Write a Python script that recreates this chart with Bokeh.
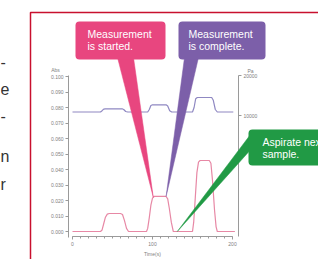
import numpy as np
from bokeh.plotting import figure
from bokeh.models import (Range1d, LinearAxis, FixedTicker, BoxAnnotation,
                          PolyAnnotation, Label, PrintfTickFormatter)
from bokeh.embed import file_html
from bokeh.resources import INLINE

# ---------------- data ----------------
time_s = [0, 35, 37, 39, 41, 43.5, 46, 60, 62.5, 65, 67.5, 70,
          92.5, 94, 96, 98, 100, 102, 117, 119, 121, 123.5, 126,
          150, 151.5, 153.5, 155.5, 157.5, 159.5, 171, 173, 175, 177.5, 179.5, 181, 203]
absorbance = [0, 0, 0.001, 0.005, 0.009, 0.0112, 0.0116, 0.0116, 0.011, 0.007, 0.002, 0,
              0, 0.002, 0.009, 0.017, 0.0215, 0.0226, 0.0226, 0.021, 0.015, 0.006, 0,
              0, 0.006, 0.022, 0.038, 0.0448, 0.0458, 0.0458, 0.044, 0.033, 0.014, 0.003, 0, 0]

press_time = [0, 35, 37, 39, 41, 62, 64, 66.5, 69,
              94, 96, 98, 100, 117, 119, 121.5, 124,
              150, 152, 154, 156, 174, 176, 178.5, 181, 201]
pressure_pa = [10875, 10875, 11200, 11600, 11675, 11675, 11500, 11000, 10875,
               10875, 11500, 12500, 12675, 12675, 12400, 11200, 10875,
               10875, 12000, 14200, 14500, 14500, 13800, 11500, 10875, 10875]

x_tick_major = [0, 100, 200]
x_tick_minor = [0, 10, 20, 30, 40, 50, 60, 70, 80, 90, 100, 110, 120,
                130, 140, 150, 160, 170, 180, 190, 200]
abs_ticks = [0.00, 0.01, 0.02, 0.03, 0.04, 0.05, 0.06, 0.07, 0.08, 0.09, 0.10]
press_ticks = [10000, 20000]

event_times = [101, 117, 131]
callout_text = [["Measurement", "is started."],
                ["Measurement", "is complete."],
                ["Aspirate next", "sample."]]
callout_colors = ["#E8467F", "#7C5FA9", "#219A45"]
side_text = ["-", "e", "-", "n", "r"]

# ---------------- geometry (frame = whole canvas) ----------------
W, H = 318, 259
PPX = 0.8                                   # px per second
PPY = 1550.0                                # px per AU
PPP = 40.0 / 10000                          # px per Pa
# canvas px of reference points: t=0 at x=72, A=0 at y=231, 10000 Pa at y=115
X0 = -72 / PPX
X1 = X0 + W / PPX
Y0 = -(H - 231) / PPY
Y1 = Y0 + H / PPY
P0 = 10000 - (H - 115) / PPP
P1 = P0 + H / PPP


def sx(cx):
    return X0 + cx / PPX


def sy(cy):
    return Y0 + (H - cy) / PPY


def sp(cy):
    return P0 + (H - cy) / PPP


p = figure(width=W, height=H, output_backend="svg", toolbar_location=None,
           x_range=Range1d(X0, X1), y_range=Range1d(Y0, Y1),
           min_border=0)
p.title.visible = False
p.extra_y_ranges = {"press": Range1d(P0, P1)}
p.grid.visible = False
p.outline_line_color = None
p.background_fill_color = "white"
p.border_fill_color = "white"

p.line(press_time, pressure_pa, line_color="#8F88C2", line_width=1.2,
       y_range_name="press")
p.line(time_s, absorbance, line_color="#E788A5", line_width=1.2)

GRAY = "#9a9a9a"
FONT = "Liberation Sans"


def style_axis(ax):
    ax.axis_line_color = GRAY
    ax.axis_line_width = 1
    ax.major_tick_line_color = GRAY
    ax.minor_tick_line_color = GRAY
    ax.major_tick_in = 0
    ax.major_tick_out = 3
    ax.minor_tick_in = 0
    ax.minor_tick_out = 2
    ax.major_label_text_font_size = "5px"
    ax.major_label_text_color = "#808080"
    ax.major_label_text_font = FONT
    ax.major_label_standoff = 2
    ax.axis_label_text_font_size = "5px"
    ax.axis_label_text_color = "#808080"
    ax.axis_label_text_font = FONT
    ax.axis_label_text_font_style = "normal"
    ax.axis_label_standoff = 2


xa = p.xaxis[0]
xa.ticker = FixedTicker(ticks=x_tick_major, minor_ticks=x_tick_minor)
xa.axis_label = "Time(s)"
xa.fixed_location = sy(236)
xa.bounds = (0, 200)
style_axis(xa)

ya = p.yaxis[0]
ya.ticker = FixedTicker(ticks=abs_ticks)
ya.formatter = PrintfTickFormatter(format="%.3f")
ya.fixed_location = sx(68)
ya.bounds = (sy(237), sy(75))
style_axis(ya)
ya.minor_tick_out = 0

ra = LinearAxis(y_range_name="press", ticker=FixedTicker(ticks=press_ticks),
                formatter=PrintfTickFormatter(format="%d"))
ra.fixed_location = sx(238)
ra.bounds = (sp(236), sp(75))
style_axis(ra)
ra.minor_tick_out = 0
p.add_layout(ra, "right")

for txt, cx, cy, al in [("Abs", 55, 69.5, "center"), ("Pa", 247, 70.5, "left")]:
    p.add_layout(Label(x=sx(cx), y=sy(cy), text=txt, text_align=al,
                       text_baseline="middle", text_font_size="5px",
                       text_color="#808080", text_font=FONT))

# ---------------- callouts ----------------
tip_y = [float(np.interp(t, time_s, absorbance)) for t in event_times]

boxes = [(75, 165, 21, 59), (178, 265, 21, 59), (248, 350, 129, 165)]
bases = [[(117, 57), (133, 57)], [(184, 57), (198, 57)], [(253, 130), (253, 146)]]
text_x = [87, 188, 262]
text_y = [(33.5, 45), (33.5, 45), (141.5, 153.5)]

for i in range(3):
    c = callout_colors[i]
    (b1, b2) = bases[i]
    p.add_layout(PolyAnnotation(
        xs=[sx(b1[0]), sx(b2[0]), event_times[i]],
        ys=[sy(b1[1]), sy(b2[1]), tip_y[i]],
        fill_color=c, fill_alpha=1, line_color=c, line_alpha=1, line_width=0.5))
    l, r, t, b = boxes[i]
    p.add_layout(BoxAnnotation(left=sx(l), right=sx(r), top=sy(t), bottom=sy(b),
                               fill_color=c, fill_alpha=1, line_color=None,
                               border_radius=4))
    for j in range(2):
        p.add_layout(Label(x=sx(text_x[i]), y=sy(text_y[i][j]), text=callout_text[i][j],
                           text_color="white", text_font_size="10.5px",
                           text_font=FONT, text_baseline="middle", text_align="left"))

# red frame around the panel
p.add_layout(BoxAnnotation(left=sx(30), right=sx(360), top=sy(12), bottom=sy(300),
                           fill_color=None, fill_alpha=0, line_color="#C8102E",
                           line_alpha=1, line_width=1.5))

# text fragments of the neighbouring column
for txt, cy in zip(side_text, [61, 88, 115, 156, 184]):
    p.add_layout(Label(x=sx(0), y=sy(cy), text=txt, text_font_size="16px",
                       text_color="#333333", text_font=FONT,
                       text_baseline="middle", text_align="left"))

open("out.html", "w").write(file_html(p, INLINE))
